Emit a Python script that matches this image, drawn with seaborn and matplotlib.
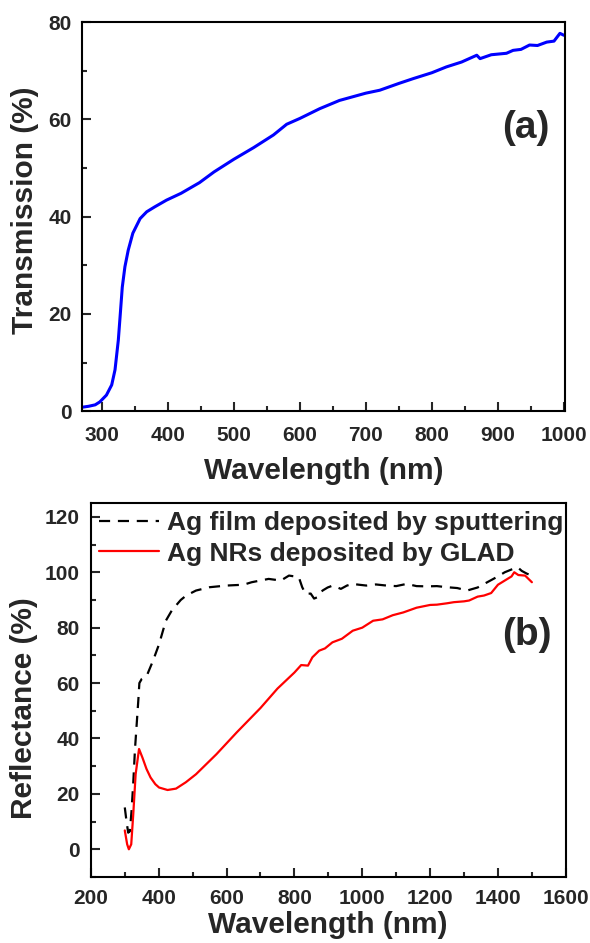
import matplotlib
matplotlib.use('Agg')
import matplotlib.pyplot as plt
import pandas as pd
import seaborn as sns
from matplotlib.ticker import MultipleLocator

# (a) transmission spectrum
trans_wl = [270, 280, 290, 297, 307, 315, 320, 325, 328, 331, 335, 340, 347, 358,
            368, 380, 398, 420, 448, 470, 500, 530, 560, 580, 600, 630, 660, 700,
            721, 750, 772, 800, 822, 845, 868, 873, 890, 913, 923, 935, 948, 960,
            974, 985, 994, 1000]
trans_val = [0.8, 1.0, 1.3, 1.9, 3.3, 5.4, 8.5, 14.6, 20.0, 25.5, 29.7, 33.1, 36.6, 39.6,
             41.0, 42.0, 43.4, 44.8, 47.0, 49.2, 51.8, 54.2, 56.8, 59.0, 60.2, 62.2, 63.9, 65.4,
             66.0, 67.4, 68.4, 69.6, 70.8, 71.8, 73.2, 72.5, 73.3, 73.6, 74.2, 74.4, 75.3, 75.2,
             75.9, 76.1, 77.7, 77.3]

# (b) reflectance spectra
film_wl = [300, 305, 310, 315, 320, 325, 330, 335, 340, 343, 350, 365, 383, 401, 421,
           440, 451, 465, 481, 510, 550, 600, 650, 674, 724, 760, 784, 800, 813, 823,
           833, 848, 858, 868, 883, 898, 913, 937, 955, 972, 990, 1012, 1040, 1071,
           1100, 1131, 1160, 1190, 1220, 1250, 1280, 1309, 1340, 1370, 1400, 1420,
           1440, 1458, 1470, 1485, 1500]
film_val = [15.1, 10.2, 6.0, 6.5, 14.0, 24.0, 36.0, 45.0, 54.0, 60.0, 61.5, 62.7, 68.0, 74.0, 82.5,
            86.5, 88.0, 90.0, 91.6, 93.4, 94.6, 95.2, 95.5, 96.4, 97.6, 97.0, 98.8, 98.5, 98.2, 94.6,
            92.2, 92.3, 90.5, 91.0, 93.4, 94.5, 95.2, 94.0, 95.2, 95.8, 95.5, 95.2, 95.6, 95.2,
            95.0, 95.8, 95.0, 94.9, 95.0, 94.6, 94.3, 93.4, 94.5, 96.5, 98.5, 100.0,
            101.0, 101.8, 100.5, 99.5, 98.8]

nr_wl = [300, 307, 312, 319, 325, 332, 342, 352, 364, 376, 390, 401, 426, 451, 480,
         510, 570, 630, 700, 750, 800, 820, 840, 853, 863, 873, 890, 912, 940, 972,
         1000, 1032, 1060, 1090, 1121, 1160, 1200, 1220, 1250, 1270, 1300, 1315, 1340,
         1359, 1380, 1400, 1420, 1440, 1448, 1460, 1480, 1500]
nr_val = [6.8, 1.8, 0.0, 1.8, 12.7, 27.1, 36.2, 33.1, 29.0, 25.9, 23.5, 22.3, 21.4, 21.9, 24.2,
          27.1, 34.3, 42.2, 51.0, 58.0, 63.8, 66.5, 66.3, 69.3, 70.5, 71.7, 72.5, 74.7, 76.0, 78.9,
          80.0, 82.5, 83.0, 84.5, 85.5, 87.2, 88.2, 88.3, 88.8, 89.2, 89.5, 89.8, 91.2,
          91.6, 92.5, 95.5, 97.0, 98.5, 100.0, 99.0, 98.8, 96.4]

df_a = pd.DataFrame({'wl': trans_wl, 'T': trans_val})
df_film = pd.DataFrame({'wl': film_wl, 'R': film_val})
df_nr = pd.DataFrame({'wl': nr_wl, 'R': nr_val})

sns.set_style('ticks')
plt.rcParams['font.family'] = ['Liberation Sans', 'DejaVu Sans']
plt.rcParams['font.weight'] = 'bold'
plt.rcParams['axes.labelweight'] = 'bold'

fig = plt.figure(figsize=(5.9, 9.43), dpi=100)
ax1 = fig.add_axes([0.139, 0.564, 0.819, 0.4125])
ax2 = fig.add_axes([0.154, 0.070, 0.805, 0.3966])


def style_axis(ax, xpad, ypad):
    for sp in ax.spines.values():
        sp.set_linewidth(1.5)
        sp.set_color('black')
    ax.tick_params(which='major', direction='in', length=6.5, width=1.5,
                   labelsize=15, top=False, right=False)
    ax.tick_params(which='minor', direction='in', length=3.5, width=1.5,
                   top=False, right=False)
    ax.tick_params(axis='x', which='major', pad=xpad)
    ax.tick_params(axis='y', which='major', pad=ypad)
    for lab in ax.get_xticklabels() + ax.get_yticklabels():
        lab.set_fontweight('bold')


# Panel (a)
sns.lineplot(data=df_a, x='wl', y='T', ax=ax1, color='#0000ff', linewidth=2.2)
ax1.set_xlim(270, 1002)
ax1.set_ylim(0, 80)
ax1.xaxis.set_major_locator(MultipleLocator(100))
ax1.xaxis.set_minor_locator(MultipleLocator(50))
ax1.yaxis.set_major_locator(MultipleLocator(20))
ax1.yaxis.set_minor_locator(MultipleLocator(10))
ax1.set_xlabel('Wavelength (nm)', fontsize=21.5, fontweight='bold')
ax1.set_ylabel('Transmission (%)', fontsize=21.5, fontweight='bold')
ax1.xaxis.set_label_coords(0.5, -0.118)
ax1.yaxis.set_label_coords(-0.089, 0.517)
style_axis(ax1, 11, 7.5)
ax1.text(0.919, 0.727, '(a)', transform=ax1.transAxes, fontsize=28,
         fontweight='bold', ha='center', va='center')

# Panel (b)
sns.lineplot(data=df_film, x='wl', y='R', ax=ax2, color='black', linewidth=1.6,
             linestyle=(0, (5, 3.5)), label='Ag film deposited by sputtering')
sns.lineplot(data=df_nr, x='wl', y='R', ax=ax2, color='#ff0000', linewidth=1.6,
             label='Ag NRs deposited by GLAD')
ax2.set_xlim(200, 1600)
ax2.set_ylim(-10, 125)
ax2.xaxis.set_major_locator(MultipleLocator(200))
ax2.xaxis.set_minor_locator(MultipleLocator(100))
ax2.yaxis.set_major_locator(MultipleLocator(20))
ax2.yaxis.set_minor_locator(MultipleLocator(10))
ax2.set_xlabel('Wavelength (nm)', fontsize=21.5, fontweight='bold')
ax2.set_ylabel('Reflectance (%)', fontsize=21.5, fontweight='bold')
ax2.xaxis.set_label_coords(0.499, -0.092)
ax2.yaxis.set_label_coords(-0.111, 0.452)
style_axis(ax2, 9, 8)
ax2.legend(loc='upper left', bbox_to_anchor=(0.0, 1.0), frameon=False,
           prop={'size': 19, 'weight': 'bold'}, handlelength=2.3,
           handletextpad=0.3, labelspacing=0.25, borderaxespad=0.2, borderpad=0.1)
ax2.text(0.918, 0.647, '(b)', transform=ax2.transAxes, fontsize=28,
         fontweight='bold', ha='center', va='center')

fig.savefig('out.png', dpi=100)
